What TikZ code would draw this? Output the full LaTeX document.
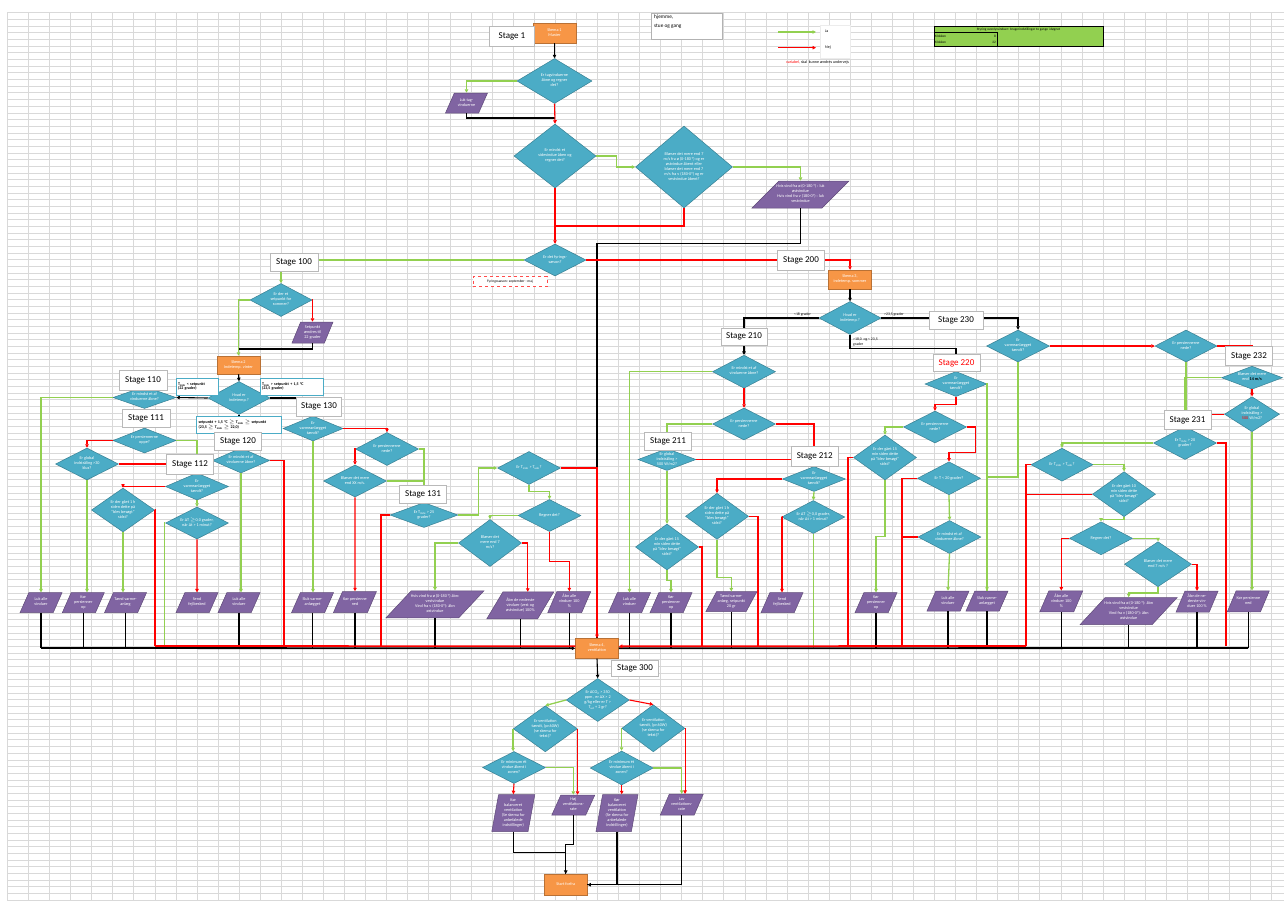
\documentclass[tikz,border=0pt]{standalone}
\usepackage{fontspec}
\setmainfont{Carlito}
\usetikzlibrary{shapes.geometric,arrows.meta,calc}
\definecolor{cteal}{HTML}{4BACC6}
\definecolor{cpurp}{HTML}{8064A2}
\definecolor{corange}{HTML}{F79646}
\definecolor{cgreen}{HTML}{92D050}
\definecolor{cred}{HTML}{FF0000}
\definecolor{cgrid}{HTML}{D9D9D9}
\newcommand{\fs}{\fontsize{4.2}{5}\selectfont}
\newcommand{\fst}{\fontsize{9}{10}\selectfont}
% centred multi-line text in a tiny box, so that the shape keeps its given size
\newcommand{\tb}[1]{\rule[-0.5pt]{0pt}{1pt}\makebox[1pt]{\smash{\raisebox{-1pt}{\begin{tabular}{@{}c@{}}#1\end{tabular}}}}}
\newcommand{\Ti}{T\textsubscript{inde}}
\newcommand{\Tu}{T\textsubscript{ude}}
\begin{document}
\begin{tikzpicture}[x=1pt,y=-1pt,
  dia/.style={shape=diamond, fill=cteal, draw=cteal!75!black, line width=0.5pt, inner sep=0pt, text=white, font=\fs},
  par/.style={trapezium, trapezium left angle=70, trapezium right angle=110, trapezium stretches=true,
              fill=cpurp, draw=cpurp!75!black, line width=0.5pt, inner sep=0pt, text=white, font=\fs},
  slant/.style={trapezium left angle=#1, trapezium right angle={180-#1}},
  org/.style={rectangle, fill=corange, draw=corange!75!black, line width=0.5pt, inner sep=0pt, text=white, font=\fs},
  stg/.style={rectangle, fill=white, draw=gray!55, line width=0.7pt, inner sep=0pt, font=\fst},
  lbl/.style={rectangle, fill=white, draw=cteal, line width=0.8pt, inner xsep=2pt, inner ysep=0pt, align=left,
              font=\fontsize{4}{4.8}\selectfont\bfseries},
  gl/.style={draw=cgreen, line width=1.3pt},
  rl/.style={draw=cred, line width=1.1pt},
  bl/.style={draw=black, line width=1.1pt},
  arr/.style={-{Triangle[length=3.5pt,width=3.5pt]}},
  bus/.style={line width=1.8pt},
  sz/.style args={#1x#2}{minimum width=#1pt, minimum height=#2pt}
]
\useasboundingbox (0,0) rectangle (1284,900);
\fill[white] (0,0) rectangle (1284,900);
% spreadsheet grid
\foreach \i in {0,...,60} {\draw[cgrid, line width=0.5pt] ({7.3+21.07*\i},12.7) -- ({7.3+21.07*\i},900);}
\foreach \j in {0,...,133} {\draw[cgrid, line width=0.5pt] (7.3,{12.7+6.67*\j}) -- (1284,{12.7+6.67*\j});}

% ---------- header notes ----------
\node[rectangle, fill=white, draw=gray!60, line width=0.6pt, sz=71x26] (hj) at (686.5,26) {};
\node[anchor=north west, inner sep=0pt, align=left, font=\fontsize{5.3}{9}\selectfont] (hjt) at (654,15) {hjemme,\\stue og gang};
\node[rectangle, fill=white, draw=gray!15, sz=30x33] (lgbox) at (835.5,41.5) {};
\coordinate (lgA) at (778,32);  \coordinate (lgB) at (816,32);
\coordinate (lgC) at (778,47.7);\coordinate (lgD) at (816,47.7);
\draw[gl,arr] (lgA) -- (lgB);
\draw[rl,arr] (lgC) -- (lgD);
\node[anchor=west, inner sep=0pt, font=\fontsize{4}{5}\selectfont] (ja) at (825,31) {Ja};
\node[anchor=west, inner sep=0pt, font=\fontsize{4}{5}\selectfont] (nej) at (825,47.7) {Nej};
\node[anchor=west, inner sep=0pt, font=\fontsize{4}{5}\selectfont] (var) at (786,62) {\textcolor{cred}{variabel,} skal\ \ kunne ændres undervejs};
% time table
\node[rectangle, fill=cgreen, draw=black, line width=0.8pt, sz=169x20] (tab) at (1018.5,36) {};
\draw[black, line width=0.8pt] (934,32.3) rectangle (997,46);
\node[inner sep=0pt, font=\fontsize{3.4}{4}\selectfont] (tabt) at (1018.5,29.3) {Styring ovenlysvinduer: brugerindstillinger to gange i døgnet};
\node[anchor=west, inner sep=0pt, font=\fontsize{3.4}{4}\selectfont] (k1) at (935,36) {Klokken};
\node[anchor=east, inner sep=0pt, font=\fontsize{3.4}{4}\selectfont] (k1v) at (996,36) {8};
\node[anchor=west, inner sep=0pt, font=\fontsize{3.4}{4}\selectfont] (k2) at (935,42.6) {Klokken};
\node[anchor=east, inner sep=0pt, font=\fontsize{3.4}{4}\selectfont] (k2v) at (996,42.6) {22};

% ---------- main flow, top ----------
\node[org, sz=43x20] (sk1) at (554.5,33) {\tb{Skema 1\\Master}};
\node[dia, sz=75x45] (d1) at (554.5,81) {\tb{Er tagvinduerne\\åbne og regner\\det?}};
\node[par, sz=42x20] (p1) at (466.5,103) {\tb{Luk tag-\\vinduerne}};
\node[dia, sz=82x64] (d2) at (555,156) {\tb{Er mindst et\\sidevindue åben og\\regner det?}};
\node[dia, sz=97x82] (d3) at (684,167) {\tb{Blæser det mere end 7\\m/s fra ø (0-180 °) og er\\østvindue åbent eller\\blæser det mere end 7\\m/s fra v (180-0°) og er\\vestvindue åbent?}};
\node[par, slant=58, sz=97x27] (p2) at (800.5,194.5) {\tb{Hvis vind fra ø (0-180 °) : luk\\østvindue\\Hvis vind fra v (180-0°) : luk\\vestvindue}};
\node[dia, sz=62x32] (d4) at (555,260) {\tb{Er det fyrings-\\sæson?}};
\node[rectangle, draw=cred!70, dashed, line width=0.7pt, fill=white, sz=74x10, inner sep=0pt, font=\fontsize{3.6}{4}\selectfont] (fyr) at (510,281.7) {Fyringssæson: september - maj};
\node[org, sz=43x19] (sk3) at (850,279.5) {\tb{Skema 3,\\indetemp. sommer}};

% ---------- winter branch ----------
\node[dia, sz=62x33] (d100) at (281,300) {\tb{Er der et\\setpunkt for\\sommer?}};
\node[par, sz=41x21] (p100) at (312.5,332.5) {\tb{Setpunkt\\ændres til\\22 grader}};
\node[org, sz=43x18] (sk2) at (238.5,365) {\tb{Skema 2\\Indetemp. vinter}};
\node[dia, sz=62x33] (dW) at (239,398) {\tb{Hvad er\\indetemp.?}};
\node[dia, sz=63x22] (d110) at (144.5,397.5) {\tb{Er mindst et af\\vinduerne åbne?}};
\node[dia, sz=63x25] (d111) at (144.5,440.5) {\tb{Er persiennerne\\oppe?}};
\node[dia, sz=63x32] (d111b) at (87,464) {\tb{Er global\\indstråling >30\\klux?}};
\node[dia, sz=63x27] (d112) at (197,486.5) {\tb{Er\\varmeanlægget\\tændt?}};
\node[dia, sz=63x44] (d112b) at (123,510) {\tb{Er der gået 1 h\\siden dette på\\"blev besøgt"\\sidst?}};
\node[dia, sz=63x32] (d112c) at (197,523) {\tb{Er ΔT $\geq$0,0 grader,\\når Δt > 1 minut?}};
\node[dia, sz=57x25] (d120) at (241,460.5) {\tb{Er mindst et af\\vinduerne åbne?}};
\node[dia, sz=60x25] (d130) at (313,428.5) {\tb{Er\\varmeanlægget\\tændt?}};
\node[dia, sz=63x33] (d130b) at (387,449) {\tb{Er persiennerne\\nede?}};
\node[dia, sz=63x32] (d130c) at (355,481) {\tb{Blæser det mere\\end XX m/s.}};
\node[dia, sz=68x25] (d131) at (424,515) {\tb{Er \Ti{} > 25\\grader?}};
\node[dia, sz=63x33] (d131b) at (529,468) {\tb{Er \Ti{} > \Tu?}};
\node[dia, sz=63x32] (d131c) at (549.5,515.5) {\tb{Regner det?}};
\node[dia, sz=63x47] (d131d) at (490,543) {\tb{Blæser det\\mere end 7\\m/s?}};
\node[par, sz=42x20] (pL1) at (41,602.7) {\tb{Luk alle\\vinduer}};
\node[par, sz=42x20] (pL2) at (83.3,602.7) {\tb{Kør\\persienner\\op}};
\node[par, sz=42x20] (pL3) at (125.5,602.7) {\tb{Tænd varme-\\anlæg}};
\node[par, sz=42x20] (pL4) at (197,602.7) {\tb{Send\\fejlbesked}};
\node[par, sz=42x20] (pL5) at (239,602.7) {\tb{Luk alle\\vinduer}};
\node[par, sz=42x20] (pL6) at (312.5,602.7) {\tb{Sluk varme-\\anlægget}};
\node[par, sz=43x21] (pL7) at (355,602) {\tb{Kør persienne\\ned}};
\node[par, slant=62, sz=98x27] (pL8) at (435,604.3) {\tb{Hvis vind fra ø (0-180 °) åbn:\\vestvindue\\Vind fra v (180-0°): åbn\\østvindue}};
\node[par, slant=65, sz=67x27] (pL9) at (520.3,605.3) {\tb{Åbn de nederste\\vinduer (vest og\\østvindue) 100\%}};
\node[par, sz=43x21] (pL10) at (569.3,602) {\tb{Åbn alle\\vinduer 100\\\%}};
\node[org, sz=43x20] (sk4) at (597,648.3) {\tb{Skema 4,\\ventilation}};

% ---------- summer branch ----------
\node[dia, sz=62x33] (d200) at (850,318) {\tb{Hvad er\\indetemp.?}};
\node[dia, sz=63x33] (d210) at (744,371.7) {\tb{Er mindst et af\\vinduerne åbne?}};
\node[dia, sz=63x32] (d210b) at (744,424) {\tb{Er persiennerne\\nede?}};
\node[dia, sz=58x22] (d211) at (667,459.5) {\tb{Er global\\indstråling >\\500 W/m2?}};
\node[dia, sz=63x25] (d212) at (814,479) {\tb{Er\\varmeanlægget\\tændt?}};
\node[dia, sz=63x46] (d212b) at (717,516.3) {\tb{Er der gået 1 h\\siden dette på\\"blev besøgt"\\sidst?}};
\node[dia, sz=63x33] (d212c) at (813.3,517) {\tb{Er ΔT $\geq$0,0 grader,\\når Δt > 1 minut?}};
\node[dia, sz=63x46] (d211b) at (667,547) {\tb{Er der gået 15\\min siden dette\\på "blev besøgt"\\sidst?}};
\node[par, sz=42x20] (pR1) at (629.5,602.7) {\tb{Luk alle\\vinduer}};
\node[par, sz=42x20] (pR2) at (671,602.7) {\tb{Kør\\persienner\\op}};
\node[par, sz=51x20] (pR3) at (731.3,601.7) {\tb{Tænd varme-\\anlæg, setpunkt\\20 gr}};
\node[par, sz=42x20] (pR4) at (782,602.7) {\tb{Send\\fejlbesked}};
\node[dia, sz=62x25] (d220) at (956,384) {\tb{Er\\varmeanlægget\\tændt?}};
\node[dia, sz=63x32] (d220b) at (935,427) {\tb{Er persiennerne\\nede?}};
\node[dia, sz=63x45] (d220c) at (885,457.5) {\tb{Er der gået 15\\min siden dette\\på "blev besøgt"\\sidst?}};
\node[dia, sz=63x33] (d220d) at (949,478.3) {\tb{Er T < 20 grader?}};
\node[dia, sz=63x33] (d220e) at (949.5,537) {\tb{Er mindst et af\\vinduerne åbne?}};
\node[par, sz=42x20] (pR5) at (876,602.7) {\tb{Kør\\persienner\\op}};
\node[par, sz=42x20] (pR6) at (948,601) {\tb{Luk alle\\vinduer}};
\node[par, sz=42x20] (pR7) at (987,601) {\tb{Sluk varme-\\anlægget}};
\node[dia, sz=63x32] (d230) at (1018,346) {\tb{Er\\varmeanlægget\\tændt?}};
\node[dia, sz=62x32] (d230b) at (1186,346) {\tb{Er persiennerne\\nede?}};
\node[dia, sz=61x23] (d232) at (1252,377.7) {\tb{Blæser det mere\\end \textcolor{black}{\textbf{14 m/s}}}};
\node[dia, sz=55x35] (d232b) at (1252,414.2) {\tb{Er global\\indstråling >\\\textcolor{cred}{500} W/m2?}};
\node[dia, sz=63x33] (d231) at (1185,443) {\tb{Er \Ti{} > 20\\grader?}};
\node[dia, sz=62x33] (d231b) at (1062,464.7) {\tb{Er \Ti{} > \Tu?}};
\node[dia, sz=63x45] (d231c) at (1124,494.2) {\tb{Er der gået 10\\min siden dette\\på "blev besøgt"\\sidst?}};
\node[dia, sz=63x33] (d231d) at (1101,538.3) {\tb{Regner det?}};
\node[dia, sz=67x45] (d231e) at (1158,564.2) {\tb{Blæser det mere\\end 7 m/s ?}};
\node[par, sz=43x21] (pR8) at (1061.3,601.3) {\tb{Åbn alle\\vinduer 100\\\%}};
\node[par, slant=62, sz=97x27] (pR9) at (1128.7,611) {\tb{Hvis vind fra ø (0-180 °): åbn\\vestvindue\\Vind fra v (180-0°): åbn\\østvindue}};
\node[par, sz=42x21] (pR10) at (1197,601.7) {\tb{Åbn de ne-\\derste vin-\\duer 100 \%}};
\node[par, sz=42x21] (pR11) at (1248.3,601.3) {\tb{Kør persienne\\ned}};

% ---------- ventilation ----------
\node[dia, sz=63x43] (d300) at (597.7,700) {\tb{Er ΔCO\textsubscript{2} > 350\\ppm , er ΔX > 2\\g/kg eller er T >\\T\textsubscript{ud} + 2 gr?}};
\node[dia, sz=64x46] (dV1) at (545.3,728.8) {\tb{Er ventilation\\tændt, (pr.60W)\\(se skema for\\tekst)?}};
\node[dia, sz=63x47] (dV2) at (653.3,728.3) {\tb{Er ventilation\\tændt, (pr.60W)\\(se skema for\\tekst)?}};
\node[dia, sz=63x32] (dV3) at (514,767.5) {\tb{Er minimum ét\\vindue åbent i\\zonen?}};
\node[dia, sz=63x34] (dV4) at (621.7,768) {\tb{Er minimum ét\\vindue åbent i\\zonen?}};
\node[par, slant=77, sz=43x37] (pV1) at (513.3,813) {\tb{Kør\\balanceret\\ventilation\\(Se skema for\\anbefalede\\indstillinger)}};
\node[par, sz=43x20] (pV2) at (573.3,805) {\tb{Høj\\ventilations-\\rate}};
\node[par, slant=77, sz=42x37] (pV3) at (617,813) {\tb{Kør\\balanceret\\ventilation\\(Se skema for\\anbefalede\\indstillinger)}};
\node[par, sz=43x21] (pV4) at (681.7,804.7) {\tb{Lav\\ventilations-\\rate}};
\node[org, sz=43x21] (skF) at (565.7,884.7) {\tb{Start forfra}};

% ---------- junctions and bus points ----------
\coordinate (j1) at (554.5,118);
\coordinate (j2) at (555,226);
\coordinate (j3) at (238.5,349);
\coordinate (busW) at (41,648);
\coordinate (busE) at (1248,648);
\coordinate (rA) at (155,646);
\coordinate (rB) at (284,646);
\coordinate (rC) at (381,646);
\coordinate (rD) at (702,646);
\coordinate (rE) at (758,646);
\coordinate (rF) at (848,646);
\coordinate (rG) at (902,646);
\coordinate (rH) at (1026,646);
\coordinate (rI) at (1226,646);
\coordinate (gA) at (164.3,648);
\coordinate (gB) at (813.3,648);

% ---------- connectors: top ----------
\draw[bl,arr] (sk1.south) -- (d1.north);
\draw[gl,arr] (d1.west) -| (p1.north);
\draw[bl] (p1.south) |- (j1);
\draw[rl,arr] (d1.south) -- (d2.north);
\draw[gl,arr] (d2.east) -- ++(20,0) |- (d3.west);
\draw[gl,arr] (d3.east) -| (p2.north);
\draw[rl,arr] (d2.south) -- (d4.north);
\draw[rl] (d3.south) |- (j2);
\draw[bl] (p2.south) -- ++(0,35) -| (sk4.north);
\draw[gl,arr] (d4.west) -| (d100.north);
\draw[rl,arr] (d4.east) -| (sk3.north);
\draw[bl,arr] (sk3.south) -- (d200.north);

% ---------- connectors: winter ----------
\draw[rl,arr] (d100.east) -| (p100.north);
\draw[gl,arr] (d100.west) -| (sk2.north);
\draw[bl] (p100.south) |- (j3);
\draw[bl,arr] (sk2.south) -- (dW.north);
\draw[bl,arr] (dW.west) -- (d110.east);
\draw[bl,arr] (dW.east) -| (d130.north);
\draw[bl,arr] (dW.south) -- (dW.south |- d120.north);
\draw[rl,arr] (d110.south) -- (d111.north);
\draw[gl,arr] (d110.west) -| (pL1.north);
\draw[rl,arr] (d111.west) -| (d111b.north);
\draw[gl,arr] (d111.east) -| (d112.north);
\draw[rl] (d111b.east) -| (d112.north);
\draw[gl,arr] (d111b.south) -- (d111b.south |- pL2.north);
\draw[rl,arr] (d112.west) -| (d112b.north);
\draw[gl,arr] (d112.south) -- (d112c.north);
\draw[gl,arr] (d112b.south) -- (d112b.south |- pL3.north);
\draw[rl] (d112b.east) -| (rA);
\draw[gl] (d112c.west) -| (gA);
\draw[rl,arr] (d112c.south) -- (pL4.north);
\draw[gl,arr] (d120.south) -- (d120.south |- pL5.north);
\draw[rl] (d120.east) -| (rB);
\draw[rl,arr] (d130.east) -| (d130b.north);
\draw[gl,arr] (d130.south) -- (d130.south |- pL6.north);
\draw[rl,arr] (d130b.west) -| (d130c.north);
\draw[gl,arr] (d130b.east) -| (d131.north);
\draw[gl] (d130c.east) -| (d131.north);
\draw[rl,arr] (d130c.south) -- (pL7.north);
\draw[rl] (d131.west) -| (rC);
\draw[gl,arr] (d131.east) -- ++(20,0) |- (d131b.west);
\draw[rl,arr] (d131b.east) -| (sk4.north);
\draw[gl,arr] (d131b.south) -- ++(0,7) -| (d131c.north);
\draw[gl,arr] (d131c.west) -| (d131d.north);
\draw[rl,arr] (d131c.south) -- ++(0,30) -| (pL10.north);
\draw[gl,arr] (d131d.west) -| (pL8.north);
\draw[rl,arr] (d131d.east) -- ++(6,0) -- ++(0,48.8);

% ---------- connectors: summer ----------
\draw[bl,arr] (d200.west) -| (d210.north);
\draw[bl,arr] (d200.east) -| (d230.north);
\draw[bl,arr] (d200.south) -- ++(0,14) -| (d220.north);
\draw[gl,arr] (d210.west) -| (pR1.north);
\draw[rl,arr] (d210.south) -- (d210b.north);
\draw[gl,arr] (d210b.west) -| (d211.north);
\draw[rl,arr] (d210b.east) -| (d212.north);
\draw[rl] (d211.east) -| (d212.north);
\draw[gl,arr] (d211.south) -- (d211b.north);
\draw[rl,arr] (d212.west) -| (d212b.north);
\draw[gl,arr] (d212.south) -- (d212c.north);
\draw[gl,arr] (d211b.south) -- ++(0,10) -| (pR2.north);
\draw[rl] (d211b.east) -| (rD);
\draw[gl,arr] (d212b.south) -- ++(0,37.7) -| (pR3.north);
\draw[rl] (d212b.east) -| (rE);
\draw[rl,arr] (d212c.west) -| (pR4.north);
\draw[gl] (d212c.south) -- (gB);
\draw[rl,arr] (d220.south) -- ++(0,8) -| (d220b.north);
\draw[gl,arr] (d220b.west) -| (d220c.north);
\draw[rl,arr] (d220b.east) -- ++(9,0) -- ++(0,25.7) -| (d220d.north);
\draw[gl,arr] (d220c.south) -- ++(0,56) -| (pR5.north);
\draw[rl] (d220c.west) -| (rF);
\draw[rl] (d220d.west) -| (rG);
\draw[rl] (d220e.west) -| (rG);
\draw[gl,arr] (d220d.south) -- (d220e.north);
\draw[gl,arr] (d220e.south) -- (pR6.north);
\draw[gl,arr] (d220.east) -| (pR7.north);
\draw[gl] (d230.south) -- ++(0,114.7) -| (pR7.north);
\draw[rl,arr] (d230.east) -- (d230b.west);
\draw[rl,arr] (d230b.east) -| (d232.north);
\draw[gl,arr] (d230b.south) -- (d230b.south |- d231.north);
\draw[gl] (d232.west) -| (d231.north);
\draw[rl,arr] (d232.south) -- (d232b.north);
\draw[rl] (d232b.west) -| (d231.north);
\draw[gl,arr] (d232b.south) -- (d232b.south |- pR11.north);
\draw[gl,arr] (d231.west) -| (d231b.north);
\draw[rl] (d231.east) -| (rI);
\draw[gl,arr] (d231b.east) -| (d231c.north);
\draw[rl] (d231b.west) -| (rH);
\draw[rl] (d231c.west) -| (rH);
\draw[gl,arr] (d231c.south) -- ++(0,2.5) -| (d231d.north);
\draw[rl,arr] (d231d.west) -| (pR8.north);
\draw[gl,arr] (d231d.east) -| (d231e.north);
\draw[gl,arr] (d231e.south) -- ++(0,6) -| (pR9.north);
\draw[rl,arr] (d231e.east) -| (pR10.north);

% ---------- collecting bus into Skema 4 ----------
\foreach \n in {pL1,pL2,pL3,pL5,pL6,pL7,pL8,pL9,pL10,pR1,pR2,pR3,pR5,pR6,pR7,pR8,pR9,pR10,pR11}
  {\draw[bl] (\n.south) -- (\n.south |- busW);}
\draw[rl,bus] (rA) -- ([yshift=2pt]sk4.west);
\draw[bl,bus,arr] (busW) -- (sk4.west);
\draw[bl,bus] (busE) -- (sk4.east);
\draw[rl,bus,arr] (rH) -- ([yshift=2pt]sk4.east);

% ---------- connectors: ventilation ----------
\draw[bl,arr] (sk4.south) -- (d300.north);
\draw[gl,arr] (d300.west) -- (dV1.north);
\draw[rl,arr] (d300.east) -- (dV2.north);
\draw[gl,arr] (dV1.west) -- (dV1.west |- dV3.north);
\draw[rl,arr] (dV1.east) -- (dV1.east |- pV2.north);
\draw[gl,arr] (dV3.east) -| (pV2.north);
\draw[rl,arr] (dV3.south) -- (pV1.north);
\draw[gl,arr] (dV2.west) -- (dV2.west |- dV4.north);
\draw[rl,arr] (dV2.east) -- (dV2.east |- pV4.north);
\draw[gl,arr] (dV4.east) -| (pV4.north);
\draw[rl,arr] (dV4.south) -- (dV4.south |- pV3.north);
\draw[bl] (pV1.south) -- ++(0,21) -| (skF.north);
\draw[bl,arr] (pV2.south) -- ++(0,29.3) -| (skF.north);
\draw[bl,arr] (pV3.south) |- (skF.east);
\draw[bl] (pV4.south) |- (skF.east);

% ---------- condition labels ----------
\node[inner sep=0pt, font=\fontsize{3.8}{4.5}\selectfont] (lt18) at (802.5,314.5) {<18 grader};
\node[anchor=west, inner sep=0pt, font=\fontsize{3.8}{4.5}\selectfont] (gt23) at (884,314.5) {>23,5 grader};
\node[anchor=north west, inner sep=0pt, align=left, font=\fontsize{3.8}{5.5}\selectfont] (mid) at (853,337.5) {>18,0\ \ og < 23,5\\grader};
\node[lbl, text width=38pt, minimum height=17pt] (lbl1) at (197,386.5) {\Ti{} < setpunkt\\(22 grader)};
\node[lbl, text width=59pt, minimum height=17pt] (lbl2) at (291.5,386.5) {\Ti{} > setpunkt + 1,5 °C\\(23,5 grader)};
\node[lbl, text width=81pt, minimum height=17pt] (lbl3) at (239,424.5) {setpunkt + 1,5 °C $\geq$ \Ti{} $\geq$ setpunkt\\(23,5 $\geq$ \Ti{} $\geq$ 22,0)};

% ---------- stage markers ----------
\node[stg, sz=45x20] (st1) at (512,36) {Stage 1};
\node[stg, sz=48x18] (st100) at (294,262.5) {Stage 100};
\node[stg, sz=47x20] (st200) at (801,260.5) {Stage 200};
\node[stg, sz=48x20] (st110) at (143,380) {Stage 110};
\node[stg, sz=48x18] (st111) at (146,418) {Stage 111};
\node[stg, sz=47x20] (st112) at (190,464) {Stage 112};
\node[stg, sz=47x18] (st120) at (238,441) {Stage 120};
\node[stg, sz=45x19] (st130) at (319,406.5) {Stage 130};
\node[stg, sz=47x18] (st131) at (423,494) {Stage 131};
\node[stg, sz=46x17] (st210) at (744,336.5) {Stage 210};
\node[stg, sz=47x18] (st211) at (668,441.8) {Stage 211};
\node[stg, sz=47x20] (st212) at (814.7,456.7) {Stage 212};
\node[stg, sz=47x17, text=cred] (st220) at (956.5,363.3) {Stage 220};
\node[stg, sz=54x18] (st230) at (956,320) {Stage 230};
\node[stg, sz=47x19] (st231) at (1187.5,420.3) {Stage 231};
\node[stg, sz=47x19] (st232) at (1249,356.3) {Stage 232};
\node[stg, sz=47x16] (st300) at (635,668.8) {Stage 300};
\end{tikzpicture}
\end{document}
